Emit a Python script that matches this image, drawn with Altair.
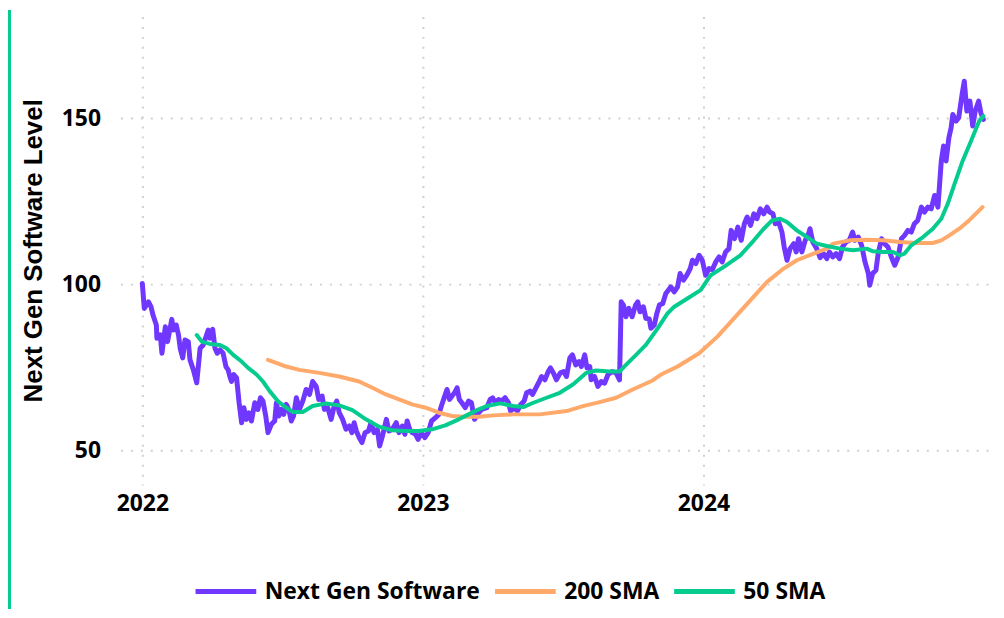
import altair as alt
import pandas as pd

# Decimal-year positions and levels
ngs_t = [2022.000, 2022.007, 2022.022, 2022.031, 2022.038, 2022.050, 2022.052, 2022.064, 2022.070, 2022.082,
         2022.090, 2022.105, 2022.111, 2022.121, 2022.129, 2022.135, 2022.144, 2022.152, 2022.164, 2022.170,
         2022.182, 2022.194, 2022.206, 2022.217, 2022.235, 2022.241, 2022.251, 2022.259, 2022.267, 2022.277,
         2022.288, 2022.298, 2022.306, 2022.312, 2022.318, 2022.326, 2022.336, 2022.345, 2022.354, 2022.362,
         2022.371, 2022.380, 2022.389, 2022.401, 2022.412, 2022.421, 2022.430, 2022.440, 2022.448, 2022.460,
         2022.472, 2022.478, 2022.487, 2022.495, 2022.504, 2022.513, 2022.522, 2022.531, 2022.539, 2022.549,
         2022.560, 2022.572, 2022.584, 2022.596, 2022.607, 2022.620, 2022.629, 2022.641, 2022.649, 2022.661,
         2022.673, 2022.684, 2022.693, 2022.702, 2022.714, 2022.726, 2022.738, 2022.747, 2022.755, 2022.763,
         2022.773, 2022.783, 2022.794, 2022.806, 2022.815, 2022.826, 2022.838, 2022.846, 2022.856, 2022.870,
         2022.879, 2022.891, 2022.905, 2022.915, 2022.927, 2022.936, 2022.944, 2022.953, 2022.962, 2022.974,
         2022.983, 2022.995, 2023.007, 2023.019, 2023.031, 2023.045, 2023.057, 2023.066, 2023.078, 2023.086,
         2023.095, 2023.104, 2023.113, 2023.122, 2023.130, 2023.139, 2023.151, 2023.163, 2023.173, 2023.184,
         2023.199, 2023.210, 2023.228, 2023.240, 2023.249, 2023.258, 2023.270, 2023.281, 2023.293, 2023.305,
         2023.313, 2023.325, 2023.337, 2023.349, 2023.361, 2023.370, 2023.382, 2023.391, 2023.403, 2023.415,
         2023.423, 2023.435, 2023.447, 2023.455, 2023.465, 2023.476, 2023.490, 2023.502, 2023.512, 2023.524,
         2023.533, 2023.545, 2023.557, 2023.565, 2023.577, 2023.585, 2023.595, 2023.600, 2023.612, 2023.624,
         2023.636, 2023.648, 2023.660, 2023.675, 2023.689, 2023.701, 2023.707, 2023.715, 2023.724, 2023.734,
         2023.746, 2023.758, 2023.766, 2023.774, 2023.786, 2023.795, 2023.807, 2023.813, 2023.825, 2023.834,
         2023.843, 2023.855, 2023.866, 2023.875, 2023.884, 2023.896, 2023.908, 2023.917, 2023.929, 2023.941,
         2023.953, 2023.961, 2023.973, 2023.985, 2023.996, 2024.008, 2024.020, 2024.032, 2024.044, 2024.056,
         2024.067, 2024.079, 2024.091, 2024.099, 2024.111, 2024.123, 2024.135, 2024.146, 2024.156, 2024.168,
         2024.180, 2024.191, 2024.203, 2024.215, 2024.227, 2024.236, 2024.248, 2024.256, 2024.268, 2024.280,
         2024.288, 2024.298, 2024.309, 2024.322, 2024.331, 2024.339, 2024.351, 2024.363, 2024.375, 2024.380,
         2024.390, 2024.404, 2024.416, 2024.428, 2024.440, 2024.449, 2024.461, 2024.473, 2024.485, 2024.496,
         2024.508, 2024.520, 2024.532, 2024.540, 2024.552, 2024.564, 2024.576, 2024.588, 2024.593, 2024.603,
         2024.615, 2024.623, 2024.635, 2024.646, 2024.658, 2024.670, 2024.682, 2024.694, 2024.706, 2024.717,
         2024.729, 2024.741, 2024.752, 2024.764, 2024.777, 2024.788, 2024.800, 2024.812, 2024.824, 2024.836,
         2024.848, 2024.856, 2024.865, 2024.875, 2024.883, 2024.889, 2024.901, 2024.910, 2024.922, 2024.930,
         2024.939, 2024.950, 2024.960, 2024.969, 2024.981, 2024.989, 2024.998]
ngs_v = [100.2, 92.7, 94.7, 93.2, 90.7, 87.7, 83.7, 84.7, 79.2, 87.2,
         82.7, 89.4, 86.2, 87.7, 84.7, 80.7, 77.8, 83.2, 82.7, 77.2,
         74.2, 70.3, 80.7, 81.7, 86.2, 83.7, 86.4, 80.7, 79.2, 80.2,
         79.2, 75.2, 74.2, 72.2, 70.7, 72.8, 71.8, 64.3, 58.3, 62.8,
         59.3, 61.3, 58.8, 64.3, 62.3, 65.8, 64.8, 60.3, 55.3, 57.8,
         58.8, 64.3, 60.3, 62.3, 60.8, 63.8, 62.3, 58.8, 60.3, 65.8,
         62.3, 64.8, 68.3, 66.8, 70.7, 69.2, 65.3, 66.3, 62.3, 62.8,
         59.3, 63.3, 64.8, 61.3, 59.3, 56.3, 57.3, 55.3, 58.3, 55.8,
         53.8, 52.3, 55.3, 55.8, 58.3, 55.3, 56.3, 51.3, 54.3, 59.3,
         55.8, 56.3, 58.3, 55.3, 57.3, 54.8, 58.8, 56.3, 55.3, 54.8,
         53.3, 55.3, 53.8, 55.3, 58.8, 59.8, 60.8, 63.3, 66.3, 68.3,
         65.3, 66.3, 67.3, 68.8, 65.3, 64.3, 62.8, 64.8, 64.3, 59.3,
         61.3, 62.3, 62.8, 65.3, 65.8, 64.3, 65.3, 64.8, 65.8, 64.3,
         61.8, 62.8, 61.8, 63.8, 64.8, 67.3, 67.8, 66.8, 68.8, 70.7,
         72.2, 71.2, 73.7, 74.8, 73.3, 71.2, 73.3, 73.7, 72.2, 77.8,
         78.7, 75.7, 76.7, 75.2, 78.7, 74.8, 75.2, 71.2, 72.2, 69.2,
         70.7, 70.2, 72.8, 73.7, 73.3, 71.2, 94.7, 93.7, 90.2, 92.7,
         90.2, 93.7, 94.7, 91.7, 93.2, 89.7, 89.5, 86.7, 87.7, 91.2,
         93.7, 94.2, 97.2, 98.2, 99.2, 97.7, 99.2, 103.2, 101.2, 102.7,
         104.7, 107.2, 106.2, 108.7, 107.2, 102.7, 104.7, 104.4, 106.7, 108.2,
         106.7, 109.7, 110.7, 116.2, 113.7, 117.2, 113.2, 118.2, 120.2, 117.7,
         121.2, 119.7, 122.7, 121.2, 123.2, 121.7, 121.2, 118.2, 118.7, 115.7,
         111.2, 107.2, 110.7, 112.2, 109.7, 113.7, 109.7, 113.2, 115.2, 116.7,
         112.7, 110.7, 108.0, 109.2, 107.7, 109.7, 108.2, 109.2, 107.7, 111.2,
         112.7, 113.2, 115.7, 113.2, 114.2, 111.7, 106.7, 103.2, 99.7, 103.2,
         104.2, 109.2, 113.7, 112.2, 111.2, 108.2, 105.7, 108.2, 113.7, 114.7,
         116.2, 115.7, 118.2, 119.2, 123.2, 121.7, 123.2, 122.7, 126.7, 123.2,
         137.1, 141.6, 137.1, 144.1, 147.1, 151.1, 149.1, 150.1, 157.1, 161.1,
         152.1, 155.1, 147.6, 152.1, 155.1, 151.6, 149.6]

sma200_t = [2022.448, 2022.513, 2022.560, 2022.631, 2022.702, 2022.773, 2022.820, 2022.868, 2022.915, 2022.962,
            2023.010, 2023.057, 2023.104, 2023.151, 2023.199, 2023.252, 2023.323, 2023.417, 2023.512, 2023.571,
            2023.630, 2023.689, 2023.748, 2023.819, 2023.849, 2023.908, 2023.985, 2024.050, 2024.109, 2024.168,
            2024.227, 2024.286, 2024.333, 2024.393, 2024.440, 2024.463, 2024.522, 2024.582, 2024.641, 2024.700,
            2024.759, 2024.818, 2024.848, 2024.877, 2024.912, 2024.947, 2024.995]
sma200_v = [77.2, 75.2, 74.2, 73.3, 72.2, 70.7, 68.8, 66.8, 65.3, 63.8,
            62.8, 61.3, 60.3, 60.1, 60.1, 60.5, 60.8, 60.8, 61.8, 63.3,
            64.5, 65.8, 68.3, 71.0, 72.8, 75.2, 79.2, 84.2, 89.7, 95.2,
            100.7, 104.7, 107.2, 109.2, 110.7, 112.2, 113.2, 113.4, 113.2, 112.7,
            112.4, 112.4, 113.2, 114.7, 116.7, 119.2, 123.2]

sma50_t = [2022.194, 2022.212, 2022.241, 2022.277, 2022.300, 2022.324, 2022.354, 2022.377, 2022.407, 2022.430,
           2022.454, 2022.483, 2022.513, 2022.537, 2022.572, 2022.607, 2022.655, 2022.702, 2022.749, 2022.797,
           2022.844, 2022.891, 2022.939, 2022.986, 2023.033, 2023.080, 2023.128, 2023.163, 2023.199, 2023.228,
           2023.276, 2023.323, 2023.358, 2023.394, 2023.441, 2023.488, 2023.535, 2023.583, 2023.618, 2023.666,
           2023.701, 2023.724, 2023.760, 2023.795, 2023.837, 2023.872, 2023.896, 2023.943, 2023.990, 2024.026,
           2024.073, 2024.132, 2024.180, 2024.215, 2024.245, 2024.274, 2024.298, 2024.333, 2024.369, 2024.404,
           2024.440, 2024.487, 2024.534, 2024.582, 2024.605, 2024.641, 2024.676, 2024.700, 2024.717, 2024.741,
           2024.783, 2024.818, 2024.848, 2024.871, 2024.895, 2024.924, 2024.954, 2024.983, 2024.998]
sma50_v = [84.7, 82.7, 82.0, 81.7, 80.7, 78.7, 76.7, 74.8, 72.8, 70.7,
           67.8, 64.8, 62.8, 61.5, 61.5, 63.3, 64.1, 63.5, 62.1, 59.3,
           57.1, 56.0, 55.8, 55.8, 56.3, 57.5, 59.3, 60.8, 62.3, 63.3,
           64.1, 63.3, 63.0, 64.3, 65.8, 67.3, 69.8, 73.3, 74.0, 73.7,
           73.7, 75.7, 78.7, 81.7, 86.7, 91.2, 93.2, 95.7, 98.2, 102.7,
           105.2, 108.7, 113.2, 116.7, 119.2, 119.7, 118.7, 116.2, 114.2, 112.2,
           111.5, 110.7, 110.2, 110.7, 109.9, 109.7, 109.7, 108.7, 109.2, 111.7,
           114.2, 116.7, 119.7, 124.2, 130.1, 137.1, 143.1, 149.1, 150.6]

series_names = ["Next Gen Software", "200 SMA", "50 SMA"]
series_colors = ["#7037FF", "#FFA96B", "#05CC8E"]
series_widths = [5, 4, 4]
x_ticks = [2022, 2023, 2024]
y_ticks = [50, 100, 150]

df = pd.concat([
    pd.DataFrame({"t": ngs_t, "v": ngs_v, "series": series_names[0]}),
    pd.DataFrame({"t": sma200_t, "v": sma200_v, "series": series_names[1]}),
    pd.DataFrame({"t": sma50_t, "v": sma50_v, "series": series_names[2]}),
], ignore_index=True)

W, H = 880, 471
LABEL_FONT = "Open Sans"

x_enc = alt.X("t:Q", scale=alt.Scale(domain=[2021.922, 2025.043], nice=False, zero=False),
              axis=alt.Axis(values=x_ticks, format="d", title=None, labelPadding=8))
y_enc = alt.Y("v:Q", scale=alt.Scale(domain=[39.5, 180.6], nice=False, zero=False),
              axis=alt.Axis(values=y_ticks, title="Next Gen Software Level", labelPadding=20,
                            titleFont="Liberation Sans", titleFontSize=26, titleFontWeight="bold",
                            titleColor="#000000", titleAngle=270, titleX=-79, titleY=235,
                            titleAlign="center", titleBaseline="alphabetic"))
color_enc = alt.Color("series:N", scale=alt.Scale(domain=series_names, range=series_colors),
                      legend=alt.Legend(title=None, orient="none", direction="horizontal",
                                        legendX=73, legendY=545, symbolType="stroke",
                                        symbolSize=3721, symbolStrokeWidth=5,
                                        labelFont=LABEL_FONT, labelFontSize=23, labelFontWeight="bold",
                                        labelColor="#000000", labelOffset=6, columnPadding=4,
                                        labelLimit=400))

layers = []
for name, sw in zip(series_names, series_widths):
    layers.append(
        alt.Chart(df).transform_filter(alt.datum.series == name)
        .mark_line(strokeWidth=sw, strokeCap="round", strokeJoin="round")
        .encode(x=x_enc, y=y_enc, color=color_enc)
    )

border = alt.Chart(df).mark_rule(color=series_colors[2], strokeWidth=2).encode(
    x=alt.value(-111.5), y=alt.value(-6), y2=alt.value(595)
)

chart = alt.layer(*layers, border).properties(
    width=W, height=H, padding={"left": 0, "top": 0, "right": 0, "bottom": 0}
).configure_view(stroke=None).configure_axis(
    domain=False, ticks=False, grid=True, gridColor="#cfcfcf", gridWidth=2, gridDash=[2, 8],
    labelFont=LABEL_FONT, labelFontSize=23, labelFontWeight="bold", labelColor="#000000"
)

chart.save("out.html", embed_options={"renderer": "svg", "actions": False})
